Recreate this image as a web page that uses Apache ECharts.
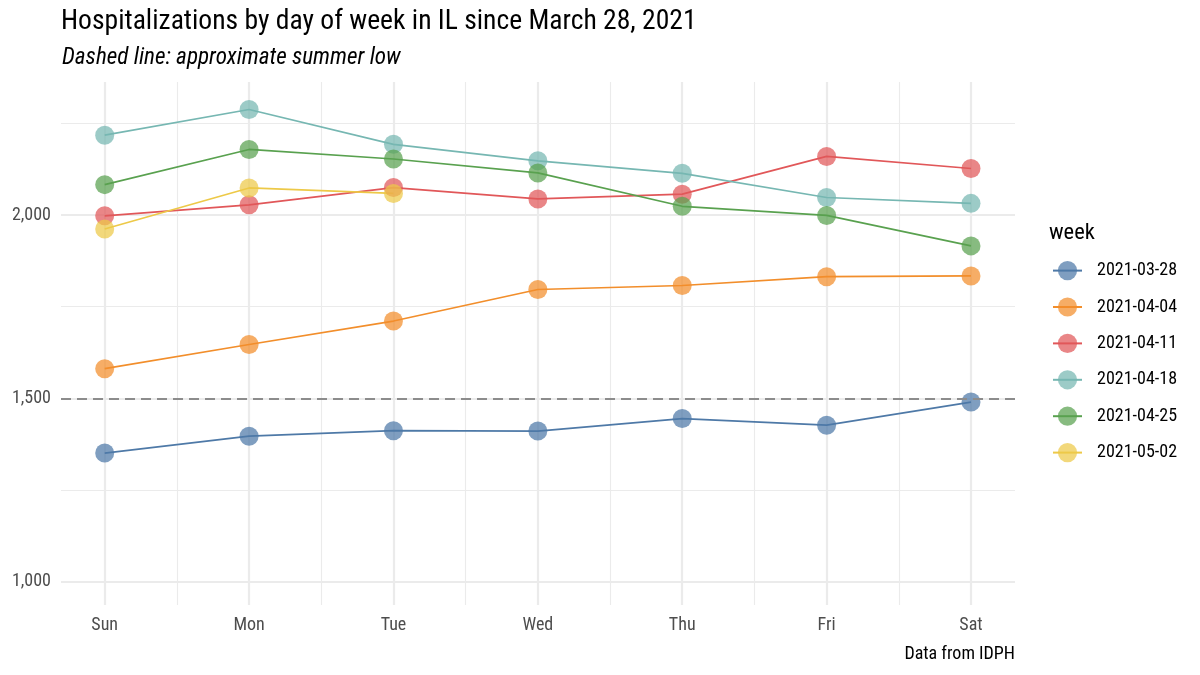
<!DOCTYPE html>
<html>
<head>
<meta charset="utf-8">
<script src="https://cdn.jsdelivr.net/npm/echarts@6/dist/echarts.min.js"></script>
<style>
html,body{margin:0;padding:0;background:#fff;}
#chart{width:1200px;height:675px;}
</style>
</head>
<body>
<div id="chart"></div>
<script>
const days = ['Sun', 'Mon', 'Tue', 'Wed', 'Thu', 'Fri', 'Sat'];
const weeks = ['2021-03-28', '2021-04-04', '2021-04-11', '2021-04-18', '2021-04-25', '2021-05-02'];
const w0328 = [1351, 1397, 1412, 1411, 1445, 1427, 1490];
const w0404 = [1581, 1647, 1711, 1797, 1808, 1832, 1834];
const w0411 = [1998, 2028, 2075, 2044, 2057, 2160, 2127];
const w0418 = [2218, 2288, 2193, 2148, 2114, 2048, 2032];
const w0425 = [2083, 2179, 2153, 2115, 2024, 1999, 1916];
const w0502 = [1962, 2074, 2059];
const yTickLabels = [1000, 1500, 2000];
const summerLow = 1500;

const weekValues = [w0328, w0404, w0411, w0418, w0425, w0502];
const colors = ['#4E79A7', '#F28E2B', '#E15759', '#76B7B2', '#59A14F', '#EDC948'];
const FONT = "'Roboto Condensed', 'Liberation Sans Narrow', 'DejaVu Sans Condensed', Roboto, sans-serif";

const chart = echarts.init(document.getElementById('chart'), null, {renderer: 'canvas'});

const series = [];
weekValues.forEach((vals, k) => {
  series.push({
    type: 'line', name: weeks[k], xAxisIndex: 1, yAxisIndex: 1,
    data: vals.map((v, i) => [i, v]),
    showSymbol: false, symbol: 'circle', symbolSize: 19,
    lineStyle: {color: colors[k], width: 1.7},
    itemStyle: {color: colors[k], opacity: 0.72},
    clip: false, z: 3, silent: true, animation: false
  });
});
weekValues.forEach((vals, k) => {
  series.push({
    type: 'scatter', name: weeks[k], xAxisIndex: 1, yAxisIndex: 1,
    data: vals.map((v, i) => [i, v]),
    symbol: 'circle', symbolSize: 19,
    itemStyle: {color: colors[k], opacity: 0.72},
    clip: false, z: 4, silent: true, animation: false
  });
});
series.push({
  type: 'line', name: 'ref', xAxisIndex: 0, yAxisIndex: 0, data: [], z: 2,
  markLine: {
    silent: true, symbol: 'none', animation: false,
    label: {show: false},
    lineStyle: {color: '#8C8C8C', type: [10, 6], width: 1.8},
    data: [{yAxis: summerLow}]
  }
});

const option = {
  backgroundColor: '#ffffff',
  animation: false,
  title: [
    {text: 'Hospitalizations by day of week in IL since March 28, 2021', left: 56, top: 3,
     textStyle: {fontFamily: FONT, fontSize: 27.6, fontWeight: 'normal', color: '#000'}},
    {text: 'Dashed line: approximate summer low', left: 57, top: 42,
     textStyle: {fontFamily: FONT, fontSize: 23.2, fontWeight: 'normal', fontStyle: 'italic', color: '#000'}},
    {text: 'week', left: 1044, top: 217,
     textStyle: {fontFamily: FONT, fontSize: 22.5, fontWeight: 'normal', color: '#000'}},
    {text: 'Data from IDPH', right: 180, top: 640,
     textStyle: {fontFamily: FONT, fontSize: 18, fontWeight: 'normal', color: '#000'}}
  ],
  legend: {
    data: weeks, orient: 'vertical', left: 1052, top: 261, padding: 0,
    itemWidth: 29, itemHeight: 24, itemGap: 17.2,
    textStyle: {fontFamily: FONT, fontSize: 18, color: '#000', padding: [0, 0, 0, 10]},
    selectedMode: false
  },
  grid: [
    {left: 61, right: 185, top: 31.7, bottom: 93.3},
    {left: 104.7, right: 229, top: 82, bottom: 70}
  ],
  xAxis: [
    {type: 'value', gridIndex: 0, min: 0, max: 1, show: false, splitLine: {show: false}},
    {type: 'value', gridIndex: 1, min: 0, max: days.length - 1, interval: 1,
     axisLine: {show: false}, axisTick: {show: false},
     axisLabel: {fontFamily: FONT, fontSize: 18, color: '#4D4D4D', margin: 11,
                 formatter: v => days[v] || ''},
     splitLine: {show: true, lineStyle: {color: '#EBEBEB', width: 2.2}},
     minorTick: {show: false, splitNumber: 2},
     minorSplitLine: {show: true, lineStyle: {color: '#EBEBEB', width: 1.1}}}
  ],
  yAxis: [
    {type: 'value', gridIndex: 0, min: 1000, max: 2500, interval: 500,
     axisLine: {show: false}, axisTick: {show: false},
     axisLabel: {fontFamily: FONT, fontSize: 18, color: '#4D4D4D', margin: 10,
                 formatter: v => yTickLabels.indexOf(v) >= 0 ? v.toLocaleString('en-US') : ''},
     splitLine: {show: true, lineStyle: {color: ['#EBEBEB', '#EBEBEB', '#EBEBEB', 'rgba(0,0,0,0)'], width: 2.2}},
     minorTick: {show: false, splitNumber: 2},
     minorSplitLine: {show: true, lineStyle: {color: '#EBEBEB', width: 1.1}}},
    {type: 'value', gridIndex: 1, min: 936.5, max: 2363, show: false, splitLine: {show: false}}
  ],
  series: series
};
chart.setOption(option);
</script>
</body>
</html>
